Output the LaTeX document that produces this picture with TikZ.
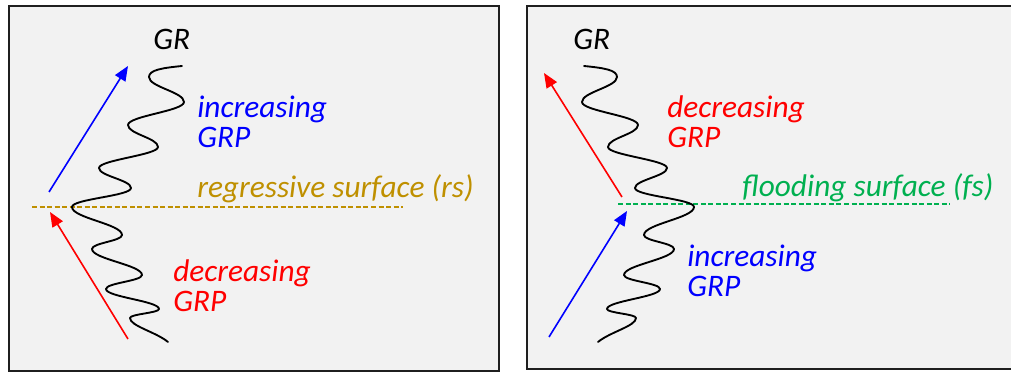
\documentclass[tikz,border=0pt]{standalone}
\usepackage{fontspec}
\setmainfont{Carlito}
\usetikzlibrary{arrows.meta}
\definecolor{panelfill}{HTML}{F2F2F2}
\definecolor{panelline}{HTML}{1F1F1F}
\definecolor{rsgold}{HTML}{BF9000}
\definecolor{fsgreen}{HTML}{00B050}

% gamma-ray log trace, drawn in pixel-like units (y grows downwards)
\tikzset{
  grlog/.pic={
    \draw[wave] (182,66) .. controls +(-20,2) and +(0,-7) .. (149,77)
      .. controls +(0,10) and +(0,-10) .. (184,102)
      .. controls +(0,9) and +(0,-9) .. (128,125)
      .. controls +(0,9) and +(0,-9) .. (158,147)
      .. controls +(0,8) and +(0,-8) .. (99,168)
      .. controls +(0,8) and +(0,-8) .. (131,188)
      .. controls +(0,8) and +(0,-8) .. (72,207)
      .. controls +(0,11) and +(0,-11) .. (122,235)
      .. controls +(0,6) and +(0,-6) .. (92,249)
      .. controls +(0,10) and +(0,-10) .. (142,275)
      .. controls +(0,6) and +(0,-6) .. (106,289)
      .. controls +(0,8) and +(0,-8) .. (159,309)
      .. controls +(0,4) and +(0,-4) .. (130,318)
      .. controls +(0,8) and +(-12,-10) .. (168,342);
  }
}

\begin{document}
\begin{tikzpicture}[x=0.75pt,y=-0.75pt,
  panel/.style={draw=panelline, line width=1.5pt, fill=panelfill},
  wave/.style={draw=black, line width=1.4pt, line join=round, line cap=round},
  trend/.style={line width=1.2pt, -{Triangle[length=11pt,width=9pt]}},
  surface/.style={line width=0.8pt, dash pattern=on 3.75pt off 1.9pt},
  lbl/.style={anchor=base west, inner sep=0pt, font=\fontsize{23.5}{28}\selectfont\itshape},
]
\useasboundingbox (0,0) rectangle (1011,373);

% panels
\draw[panel] (9,6) rectangle (499,371);
\draw[panel] (527,6) rectangle (1016,369);

% ---- left panel: regressive surface ----
\draw[surface, rsgold] (32,207) -- (403,207);
\pic (leftlog) at (0,0) {grlog};

\coordinate (lbS) at (49,192);
\coordinate (lbE) at (128,66);
\coordinate (lrS) at (128,339);
\coordinate (lrE) at (50,212);
\draw[trend, blue] (lbS) -- (lbE);
\draw[trend, red] (lrS) -- (lrE);

\node[lbl] (lgr) at (153,50) {GR};
\node[lbl, text=blue] (linc) at (197,118) {increasing};
\node[lbl, text=blue] (linc2) at (197,148) {GRP};
\node[lbl, text=rsgold] (lrs) at (197,198) {regressive surface (rs)};
\node[lbl, text=red] (ldec) at (173,282) {decreasing};
\node[lbl, text=red] (ldec2) at (173,312) {GRP};

% ---- right panel: flooding surface ----
\draw[surface, fsgreen] (618,204) -- (950,204);
\pic[xscale=-1] (rightlog) at (766,0) {grlog};

\coordinate (rrS) at (622,197);
\coordinate (rrE) at (544,73);
\coordinate (rbS) at (549,337);
\coordinate (rbE) at (627,211);
\draw[trend, red] (rrS) -- (rrE);
\draw[trend, blue] (rbS) -- (rbE);

\node[lbl] (rgr) at (573,50) {GR};
\node[lbl, text=red] (rdec) at (667,118) {decreasing};
\node[lbl, text=red] (rdec2) at (667,148) {GRP};
\node[lbl, text=fsgreen] (rfs) at (742,197) {flooding surface (fs)};
\node[lbl, text=blue] (rinc) at (687,267) {increasing};
\node[lbl, text=blue] (rinc2) at (687,297) {GRP};
\end{tikzpicture}
\end{document}
